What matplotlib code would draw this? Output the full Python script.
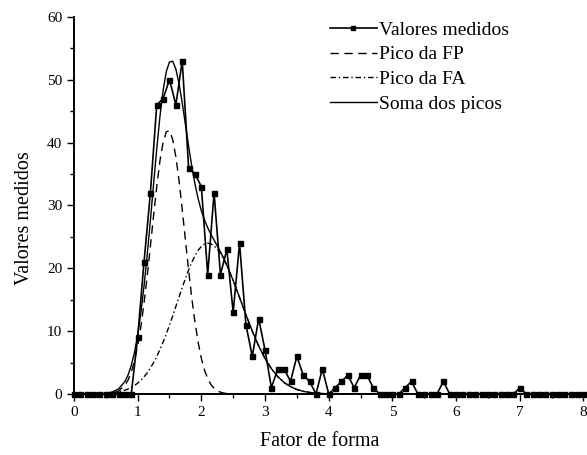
import numpy as np
import matplotlib
matplotlib.use("Agg")
import matplotlib.pyplot as plt
from matplotlib.ticker import MultipleLocator

plt.rcParams['font.family'] = ['Liberation Serif', 'DejaVu Serif']

# valores medidos (passo 0.1)
med_x = [round(0.1 * i, 1) for i in range(81)]
med_y = [0, 0, 0, 0, 0, 0, 0, 0, 0, 0,
         9, 21, 32, 46, 47, 50, 46, 53, 36, 35,
         33, 19, 32, 19, 23, 13, 24, 11, 6, 12,
         7, 1, 4, 4, 2, 6, 3, 2, 0, 4,
         0, 1, 2, 3, 1, 3, 3, 1, 0, 0,
         0, 0, 1, 2, 0, 0, 0, 0, 2, 0,
         0, 0, 0, 0, 0, 0, 0, 0, 0, 0,
         1, 0, 0, 0, 0, 0, 0, 0, 0, 0, 0]

# curvas ajustadas
curva_x = [0.0, 0.1, 0.2, 0.3, 0.4, 0.5, 0.6, 0.7, 0.8,
           0.85, 0.9, 0.95, 1.0, 1.05, 1.1, 1.15, 1.2, 1.25, 1.3, 1.35, 1.4,
           1.45, 1.5, 1.55, 1.6, 1.65, 1.7, 1.75, 1.8, 1.85, 1.9, 1.95, 2.0,
           2.05, 2.1, 2.15, 2.2, 2.25, 2.3, 2.35, 2.4,
           2.5, 2.6, 2.7, 2.8, 2.9, 3.0, 3.1, 3.2, 3.3, 3.4, 3.5, 3.6, 3.7,
           3.8, 3.9, 4.0, 4.1, 4.2, 4.3, 4.4, 4.5, 4.6, 4.7]
pico_fp = [0, 0, 0, 0, 0, 0.03, 0.14, 0.47, 1.38,
           2.23, 3.49, 5.26, 7.65, 10.7, 14.44, 18.77, 23.5, 28.4, 33.05, 37.07, 40.05,
           41.72, 41.87, 40.5, 37.75, 33.92, 29.36, 24.5, 19.7, 15.26, 11.39, 8.2, 5.68,
           3.8, 2.45, 1.52, 0.91, 0.52, 0.29, 0.16, 0.08,
           0.02, 0, 0, 0, 0, 0, 0, 0, 0, 0, 0, 0, 0,
           0, 0, 0, 0, 0, 0, 0, 0, 0, 0]
pico_fa = [0, 0, 0.01, 0.02, 0.05, 0.09, 0.18, 0.34, 0.61,
           0.80, 1.05, 1.35, 1.73, 2.18, 2.73, 3.37, 4.13, 4.99, 5.97, 7.07, 8.27,
           9.58, 10.97, 12.43, 13.94, 15.45, 16.95, 18.39, 19.74, 20.95, 22.0, 22.86, 23.48,
           23.87, 24.0, 23.89, 23.57, 23.05, 22.35, 21.47, 20.44,
           18.04, 15.36, 12.62, 10.0, 7.65, 5.65, 4.02, 2.77, 1.83, 1.17, 0.72, 0.43, 0.25,
           0.14, 0.07, 0.04, 0.02, 0.01, 0, 0, 0, 0, 0]
soma = [0, 0, 0.01, 0.02, 0.05, 0.12, 0.32, 0.81, 1.99,
        3.03, 4.54, 6.61, 9.38, 12.88, 17.17, 22.14, 27.63, 33.39, 39.02, 44.14, 48.32,
        51.3, 52.84, 52.93, 51.69, 49.37, 46.31, 42.89, 39.44, 36.21, 33.39, 31.06, 29.16,
        27.67, 26.45, 25.41, 24.48, 23.57, 22.64, 21.63, 20.52,
        18.06, 15.36, 12.62, 10.0, 7.65, 5.65, 4.02, 2.77, 1.83, 1.17, 0.72, 0.43, 0.25,
        0.14, 0.07, 0.04, 0.02, 0.01, 0, 0, 0, 0, 0]

fig = plt.figure(figsize=(5.87, 4.55), dpi=100)
ax = fig.add_axes([0.126, 0.134, 0.868, 0.829])

ax.plot(med_x, med_y, color="black", linewidth=1.2, marker="s", markersize=3.6,
        label="Valores medidos", zorder=4, clip_on=False)
ax.plot(curva_x, pico_fp, color="black", linewidth=1.0, linestyle=(0, (6, 4)),
        label="Pico da FP", zorder=3)
ax.plot(curva_x, pico_fa, color="black", linewidth=1.0, linestyle=(0, (4, 2, 1, 2)),
        label="Pico da FA", zorder=3)
ax.plot(curva_x, soma, color="black", linewidth=1.0, label="Soma dos picos", zorder=3)

ax.set_xlim(0, 8)
ax.set_ylim(0, 60)
ax.xaxis.set_major_locator(MultipleLocator(1))
ax.xaxis.set_minor_locator(MultipleLocator(0.5))
ax.yaxis.set_major_locator(MultipleLocator(10))
ax.yaxis.set_minor_locator(MultipleLocator(5))
ax.tick_params(which="major", direction="out", length=5, width=1, labelsize=11)
ax.tick_params(which="minor", direction="out", length=3, width=1)
ax.spines["top"].set_visible(False)
ax.spines["right"].set_visible(False)
ax.spines["left"].set_linewidth(1.4)
ax.spines["bottom"].set_linewidth(1.4)

ax.set_xlabel("Fator de forma", fontsize=14.5)
ax.set_ylabel("Valores medidos", fontsize=14.5)
ax.xaxis.set_label_coords(0.482, -0.1)
ax.yaxis.set_label_coords(-0.078, 0.467)

ax.legend(loc="upper left", bbox_to_anchor=(0.468, 1.035), frameon=False,
          fontsize=14, handlelength=2.4, handletextpad=0.15, labelspacing=0.36,
          numpoints=1, markerscale=0.8)

fig.savefig("out.png", dpi=100)
